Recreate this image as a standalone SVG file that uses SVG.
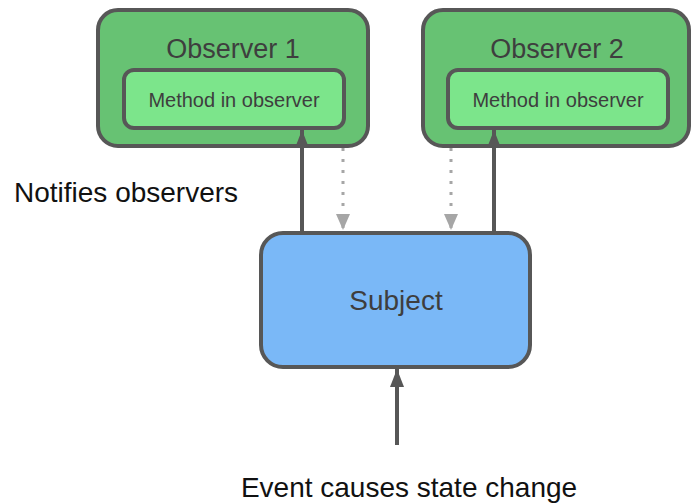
<svg xmlns="http://www.w3.org/2000/svg" width="691" height="503" viewBox="0 0 691 503">
<style>
text{font-family:"Liberation Sans",Arial,sans-serif}
.outer{fill:#67c273;stroke:#575757;stroke-width:4}
.inner{fill:#7ce58b;stroke:#575757;stroke-width:4}
.subj{fill:#7ab8f7;stroke:#575757;stroke-width:4}
.t{fill:#3e3e3e;text-anchor:middle}
.solid{stroke:#575757;stroke-width:4;fill:none}
.dot{stroke:#a6a6a6;stroke-width:3;stroke-dasharray:3,8;fill:none}
</style>
<defs>
<marker id="ah" markerWidth="18" markerHeight="14" refX="18" refY="7" orient="auto" markerUnits="userSpaceOnUse" viewBox="0 0 18 14"><path d="M0,0 L18,7 L0,14 z" fill="#575757"/></marker>
<marker id="ahg" markerWidth="16" markerHeight="14" refX="16" refY="7" orient="auto" markerUnits="userSpaceOnUse" viewBox="0 0 16 14"><path d="M0,0 L16,7 L0,14 z" fill="#a6a6a6"/></marker>
</defs>
<g id="observer1">
<rect class="outer" x="98" y="10" width="270" height="136" rx="20"/>
<text class="t" x="233" y="58" font-size="27">Observer 1</text>
<g id="method1">
<rect class="inner" x="124" y="70" width="220" height="58" rx="10"/>
<text class="t" x="234" y="107" font-size="20">Method in observer</text>
</g>
</g>
<g id="observer2">
<rect class="outer" x="423" y="10" width="266" height="136" rx="20"/>
<text class="t" x="557" y="58" font-size="27">Observer 2</text>
<g id="method2">
<rect class="inner" x="448" y="70" width="220" height="58" rx="10"/>
<text class="t" x="558" y="107" font-size="20">Method in observer</text>
</g>
</g>
<g id="subject">
<rect class="subj" x="261" y="233" width="269" height="134" rx="22"/>
<text class="t" x="396" y="310" font-size="28">Subject</text>
</g>
<g id="connectors">
<line class="solid" x1="302" y1="232" x2="302" y2="130" marker-end="url(#ah)"/>
<line class="solid" x1="494" y1="232" x2="494" y2="130" marker-end="url(#ah)"/>
<line class="dot" x1="343" y1="148" x2="343" y2="230" marker-end="url(#ahg)"/>
<line class="dot" x1="451" y1="148" x2="451" y2="230" marker-end="url(#ahg)"/>
<line class="solid" x1="397" y1="445" x2="397" y2="369" marker-end="url(#ah)"/>
</g>
<text x="14" y="202" font-size="28" fill="#111">Notifies observers</text>
<text x="409" y="497" font-size="28" fill="#111" text-anchor="middle">Event causes state change</text>
</svg>
